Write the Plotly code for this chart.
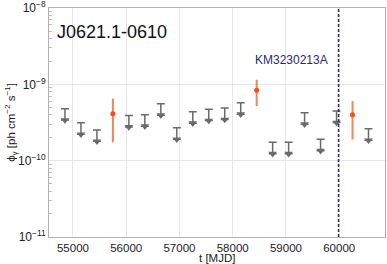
import plotly.graph_objects as go

# Upper limits (gray arrows)
ul_mjd = [54850, 55150, 55450, 56050, 56350, 56650, 56950, 57250, 57550, 57850,
          58150, 58750, 59050, 59350, 59650, 59950, 60550]
ul_flux = [4.8e-10, 3.13e-10, 2.53e-10, 3.91e-10, 3.99e-10, 5.57e-10, 2.69e-10,
           4.37e-10, 4.73e-10, 4.88e-10, 5.74e-10, 1.74e-10, 1.74e-10, 4.25e-10,
           1.91e-10, 4.46e-10, 2.61e-10]

# Detections (orange points)
det_mjd = [55750, 58450, 60250]
det_flux = [4.11e-10, 8.34e-10, 3.99e-10]
det_hi = [6.49e-10, 1.15e-9, 6.03e-10]
det_lo = [1.74e-10, 5.19e-10, 1.89e-10]

x_ticks = [55000, 56000, 57000, 58000, 59000, 60000]
y_ticks = [1e-11, 1e-10, 1e-9, 1e-8]
y_tick_text = ["10<sup>−11</sup>", "10<sup>−10</sup>", "10<sup>−9</sup>", "10<sup>−8</sup>"]

event_mjd = 59988
event_label = "KM3230213A"
source_name = "J0621.1-0610"

arrow_factor = 10 ** (-0.15)
tip = [f * arrow_factor for f in ul_flux]

fig = go.Figure()

fig.add_trace(go.Scatter(
    x=ul_mjd, y=tip, mode="markers",
    marker=dict(symbol="triangle-down", size=7.5, color="#6a6a6a"),
    error_y=dict(type="data", symmetric=False,
                 array=[c - t for c, t in zip(ul_flux, tip)],
                 arrayminus=[0] * len(tip),
                 color="#6a6a6a", thickness=1.5, width=4),
    showlegend=False, hoverinfo="skip"))

fig.add_trace(go.Scatter(
    x=det_mjd, y=det_flux, mode="markers",
    marker=dict(symbol="circle", size=5, color="#ff4a10"),
    error_y=dict(type="data", symmetric=False,
                 array=[h - f for h, f in zip(det_hi, det_flux)],
                 arrayminus=[f - l for f, l in zip(det_flux, det_lo)],
                 color="rgba(240,110,60,0.85)", thickness=2, width=0),
    showlegend=False, hoverinfo="skip"))

fig.add_shape(type="line", x0=event_mjd, x1=event_mjd, y0=0, y1=1,
              xref="x", yref="paper",
              line=dict(color="#2a2a6e", width=1.5, dash="3px,2px"))

fig.add_annotation(x=59110, y=-8.684, xref="x", yref="y", text=event_label,
                   showarrow=False, font=dict(size=12, color="#2a2a6e"),
                   xanchor="center", yanchor="middle")

fig.add_annotation(x=0.018, y=0.895, xref="paper", yref="paper", text=source_name,
                   showarrow=False, font=dict(size=18, color="#111111"),
                   xanchor="left", yanchor="middle")

# axis titles as annotations
fig.add_annotation(x=0.5, y=0, xref="paper", yref="paper", yanchor="top", yshift=-13,
                   text="t [MJD]", showarrow=False, font=dict(size=11.5, color="#222222"))
fig.add_annotation(x=-0.115, y=0.5, xref="paper", yref="paper",
                   text="ϕ<sub>γ</sub> [ph cm<sup>−2</sup> s<sup>−1</sup>]", textangle=-90,
                   showarrow=False, font=dict(size=11.5, color="#222222"),
                   xanchor="center", yanchor="middle")

font_family = "Liberation Sans, Arial, sans-serif"

fig.update_layout(
    width=387, height=264,
    margin=dict(l=49, r=2, t=8, b=27),
    paper_bgcolor="white", plot_bgcolor="white",
    font=dict(family=font_family, size=12, color="#222222"),
    xaxis=dict(range=[54550, 60860], tickvals=x_ticks, ticktext=[str(v) for v in x_ticks],
               ticks="", showgrid=True, gridcolor="#e6e6e6", gridwidth=1,
               showline=True, linecolor="#b0b0b0", mirror=True, zeroline=False,
               tickfont=dict(size=11.5), automargin=False, ticklabeloverflow="allow"),
    yaxis=dict(type="log", range=[-11.0005, -7.9995],
               tickvals=y_ticks, ticktext=y_tick_text,
               ticks="", showgrid=True, gridcolor="#e6e6e6", gridwidth=1,
               showline=True, linecolor="#b0b0b0", mirror=True, zeroline=False,
               tickfont=dict(size=12), automargin=False, ticklabeloverflow="allow",
               minor=dict(ticks="inside", ticklen=3, tickcolor="#c0c0c0", showgrid=False,
                          tickvals=[k * 10.0 ** e for e in (-11, -10, -9) for k in range(2, 10)])),
)

fig.write_html("out.html", config={"displayModeBar": False},
               post_script="document.body.style.margin='0';document.body.style.overflow='hidden';")
